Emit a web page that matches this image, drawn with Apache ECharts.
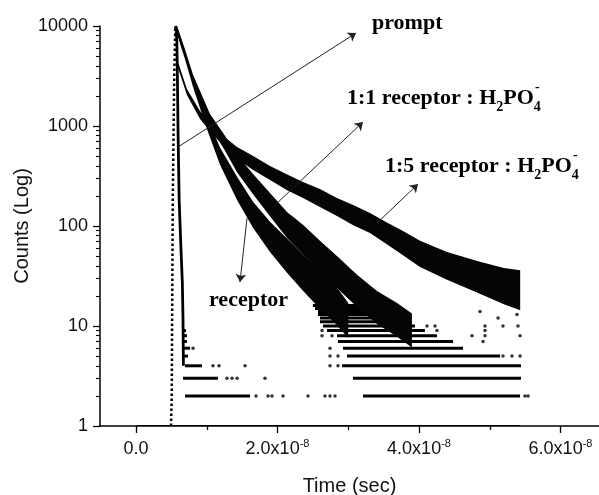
<!DOCTYPE html>
<html><head><meta charset="utf-8">
<script src="https://cdn.jsdelivr.net/npm/echarts@6/dist/echarts.min.js"></script>
<style>html,body{margin:0;padding:0;background:#fff}#c{width:599px;height:495px}</style>
</head><body><div id="c"></div>
<script>
// ---- data (time in ns, counts) ----
const receptorT  = [5.5, 5.7, 6.3, 6.93, 8.06, 10.04, 11.87, 14.28, 16.54, 18.94, 21.34, 23.6, 26.0, 28.1, 30.0];
const receptorLo = [7470, 9050, 6380, 4650, 2450, 930, 410, 182, 96, 55, 34, 22.5, 14.9, 10.7, 7.6];
const receptorHi = [8570, 10400, 7680, 5590, 3090, 1240, 610, 310, 175, 110, 75, 52, 36, 26, 17];

const ratio11T  = [5.5, 5.7, 6.3, 6.93, 8.06, 10.46, 12.5, 14.28, 16.54, 18.94, 21.34, 23.6, 26.0, 28.4, 31.24, 34.06, 36.9, 39.0];
const ratio11Lo = [7470, 9150, 6570, 4830, 2590, 1000, 580, 345, 208, 125, 76, 52, 35, 24, 15.5, 10.5, 7.8, 6.1];
const ratio11Hi = [8570, 10500, 7900, 5810, 3250, 1320, 811, 513, 331, 214, 138, 103, 71, 50, 32.5, 22.4, 17, 13.3];

const ratio15T  = [5.5, 5.7, 5.94, 7.2, 9.05, 10.46, 12.3, 14.28, 16.5, 18.94, 21.3, 23.6, 26.0, 28.4, 30.7, 33.07, 35.4, 37.74, 40.14, 43.96, 48.6, 52.0, 54.3];
const ratio15Lo = [7470, 9150, 3800, 2040, 1175, 891, 633, 468, 366, 289, 229, 190, 155, 126, 102, 85, 66, 51, 39, 29, 21, 16.5, 14.4];
const ratio15Hi = [8570, 10500, 4370, 2340, 1410, 1070, 797, 616, 505, 398, 330, 275, 235, 191, 162, 135, 109, 89, 71, 55, 44, 38, 36];

const promptRiseT = [4.95, 5.05, 5.1, 5.2, 5.4, 5.55];
const promptRiseC = [1, 2, 10, 200, 3000, 10000];
const promptFallT = [5.55, 5.75, 5.85, 5.95, 6.1, 6.35, 6.55, 6.64, 6.7];
const promptFallC = [10000, 9000, 3000, 800, 180, 60, 27, 12, 4];

// discrete count levels (photon-counting floor): count, start, end
const rowCount = [1, 2, 2, 3, 3, 4, 4, 5, 5, 6, 6, 7, 7, 8, 8, 9, 9, 10, 11, 12, 13, 14, 15, 16];
const rowStart = [0.14, 6.93, 32.08, 6.64, 30.67, 6.93, 29.12, 6.64, 29.82, 6.64, 29.26, 6.64, 28.55, 6.64, 28.41, 6.64, 27.0, 26.43, 26.0, 26.0, 25.72, 25.72, 25.3, 25.0];
const rowEnd   = [54.28, 16.11, 54.28, 11.59, 54.42, 9.33, 54.42, 7.35, 51.45, 7.63, 46.22, 7.21, 44.81, 7.21, 42.54, 7.07, 40.85, 39.43, 38.73, 37.74, 36.61, 35.19, 33.78, 32.5];

const dotT = [16.96, 18.66, 19.22, 20.78, 24.31, 26.71, 27.42, 28.13, 54.98, 55.41,
              12.86, 13.57, 14.28, 18.23,
              10.88, 11.73, 15.41, 27.42, 28.55,
              27.42, 28.55, 51.87, 53.14, 54.28,
              8.06, 27.42,
              49.05,
              26.29, 27.7, 47.49, 49.33, 54.28,
              26.29, 42.54, 49.33,
              41.13, 42.26, 49.33, 51.87, 53.99,
              51.17, 53.85, 48.62];
const dotC = [2,2,2,2,2,2,2,2,2,2, 3,3,3,3, 4,4,4,4,4, 5,5,5,5,5, 6,6, 7, 8,8,8,8,8, 9,9,9, 10,10,10,10,10, 12, 13, 14];

// annotation arrows: from curve to label
const arrowFromT = [5.94, 19.36, 34.06, 15.69];
const arrowFromC = [617, 155, 107, 120];
const arrowToT   = [31.1, 32.08, 39.86, 14.7];
const arrowToC   = [8511, 1096, 263, 27.5];

const xMajorTicks = [0, 20, 40, 60];
const xMinorTicks = [10, 30, 50];
const yMinorTicks = [2,3,4,5,6,7,8,9,20,30,40,50,60,70,80,90,200,300,400,500,600,700,800,900,2000,3000,4000,5000,6000,7000,8000,9000];

// ---- chart ----
const chart = echarts.init(document.getElementById('c'), null, {renderer: 'canvas'});
const sans = 'Liberation Sans';
const serifF = 'Liberation Serif';

function band(T, Lo, Hi) {
  return {
    type: 'custom', coordinateSystem: 'cartesian2d', clip: true, silent: true, z: 3,
    data: [[T[0], Lo[0]]],
    renderItem: function (params, api) {
      const pts = [];
      for (let i = 0; i < T.length; i++) pts.push(api.coord([T[i], Hi[i]]));
      for (let i = T.length - 1; i >= 0; i--) pts.push(api.coord([T[i], Lo[i]]));
      return {type: 'polygon', shape: {points: pts}, style: {fill: '#050505'}};
    }
  };
}

const mctx = document.createElement('canvas').getContext('2d');
function tw(t, f) { mctx.font = f; return mctx.measureText(t).width; }
const bigF = 'bold 22px "Liberation Serif"';
const subF = 'bold 14px "Liberation Serif"';
const richStyle = {
  n: {fontSize: 22, fontWeight: 'bold', fontFamily: serifF, lineHeight: 32, verticalAlign: 'middle', fill: '#000', color: '#000'},
  s: {fontSize: 14, fontWeight: 'bold', fontFamily: serifF, lineHeight: 12, verticalAlign: 'bottom', fill: '#000', color: '#000'}
};
function label(x, y, text) {
  return {type: 'text', x: x, y: y, z: 100, style: {text: text, rich: richStyle, align: 'left', verticalAlign: 'top', fill: '#000'}};
}
function supMinus(x0, y0, head) {
  const x = x0 + tw(head, bigF) + tw('2', subF) + tw('PO', bigF) + tw('4', subF) / 2;
  return {type: 'text', x: x, y: y0 + 5, z: 100, style: {text: '-', font: subF, align: 'center', verticalAlign: 'middle', fill: '#000'}};
}

const xLabelFmt = function (v) {
  if (v === 0) return '{b|0.0}';
  return '{b|' + (v / 10).toFixed(1) + 'x10}{s|-8}';
};

const option = {
  animation: false,
  backgroundColor: '#fff',
  grid: {left: 100, right: 0, top: 26, bottom: 69, containLabel: false, outerBoundsMode: 'none'},
  xAxis: [{
    type: 'value', min: -5.09, max: 65.44, position: 'bottom',
    name: 'Time (sec)', nameLocation: 'middle', nameGap: 50, nameMoveOverlap: false,
    nameTextStyle: {fontFamily: sans, fontSize: 20, color: '#111'},
    axisLine: {show: true, onZero: false, lineStyle: {color: '#000', width: 1.5}},
    axisTick: {show: true, inside: false, length: 7, customValues: xMajorTicks, lineStyle: {color: '#000', width: 1.3}},
    axisLabel: {show: true, customValues: xMajorTicks, margin: 12, formatter: xLabelFmt,
      rich: {
        b: {fontFamily: sans, fontSize: 18, color: '#111', lineHeight: 22, verticalAlign: 'middle'},
        s: {fontFamily: sans, fontSize: 11, color: '#111', lineHeight: 10, verticalAlign: 'top'}
      }},
    splitLine: {show: false}
  }, {
    type: 'value', min: -5.09, max: 65.44, position: 'bottom',
    axisLine: {show: false, onZero: false},
    axisTick: {show: true, inside: false, length: 4, customValues: xMinorTicks, lineStyle: {color: '#000', width: 1.3}},
    axisLabel: {show: false},
    splitLine: {show: false}
  }],
  yAxis: [{
    type: 'log', logBase: 10, min: 1, max: 10000, position: 'left',
    name: 'Counts (Log)', nameLocation: 'middle', nameGap: 68, nameMoveOverlap: false,
    nameTextStyle: {fontFamily: sans, fontSize: 20, color: '#111'},
    axisLine: {show: true, onZero: false, lineStyle: {color: '#000', width: 1.5}},
    axisTick: {show: true, inside: false, length: 7, lineStyle: {color: '#000', width: 1.3}},
    axisLabel: {show: true, margin: 12, fontFamily: sans, fontSize: 18, color: '#111', formatter: function (v) { return String(v); }},
    splitLine: {show: false}, minorTick: {show: false}
  }, {
    type: 'log', logBase: 10, min: 1, max: 10000, position: 'left',
    axisLine: {show: false, onZero: false},
    axisTick: {show: true, inside: false, length: 4, customValues: yMinorTicks, lineStyle: {color: '#000', width: 1.1}},
    axisLabel: {show: false},
    splitLine: {show: false}
  }],
  series: [
    band(receptorT, receptorLo, receptorHi),
    band(ratio11T, ratio11Lo, ratio11Hi),
    band(ratio15T, ratio15Lo, ratio15Hi),
    {
      type: 'custom', coordinateSystem: 'cartesian2d', clip: true, silent: true, z: 2,
      data: rowCount.map(function (c, i) { return [rowStart[i], rowEnd[i], c]; }),
      encode: {x: [0, 1], y: 2},
      renderItem: function (params, api) {
        const c = api.value(2);
        const a = api.coord([api.value(0), c]);
        const b = api.coord([api.value(1), c]);
        return {type: 'line', shape: {x1: a[0], y1: a[1], x2: b[0], y2: b[1]},
          style: {stroke: '#000', lineWidth: c === 1 ? 2.2 : 3}};
      }
    },
    {
      type: 'scatter', symbol: 'circle', symbolSize: 3.5, silent: true, z: 2,
      itemStyle: {color: '#000'},
      data: dotT.map(function (t, i) { return [t, dotC[i]]; })
    },
    {
      type: 'line', showSymbol: false, silent: true, z: 4,
      lineStyle: {color: '#000', width: 2.5, type: 'dotted'},
      data: promptRiseT.map(function (t, i) { return [t, promptRiseC[i]]; })
    },
    {
      type: 'line', showSymbol: false, silent: true, z: 4,
      lineStyle: {color: '#000', width: 2.8},
      data: promptFallT.map(function (t, i) { return [t, promptFallC[i]]; }),
      markLine: {
        silent: true, symbol: ['none', 'arrow'], symbolSize: 8, animation: false,
        label: {show: false},
        lineStyle: {color: '#222', width: 1, type: 'solid'},
        emphasis: {disabled: true},
        data: arrowFromT.map(function (t, i) {
          return [{coord: [t, arrowFromC[i]]}, {coord: [arrowToT[i], arrowToC[i]]}];
        })
      }
    }
  ],
  graphic: [
    label(372, 7, '{n|prompt}'),
    label(347, 82, '{n|1:1 receptor : H}{s|2}{n|PO}{s|4}'),
    supMinus(347, 82, '1:1 receptor : H'),
    label(385, 150, '{n|1:5 receptor : H}{s|2}{n|PO}{s|4}'),
    supMinus(385, 150, '1:5 receptor : H'),
    label(209, 284, '{n|receptor}')
  ]
};
chart.setOption(option);
</script></body></html>
